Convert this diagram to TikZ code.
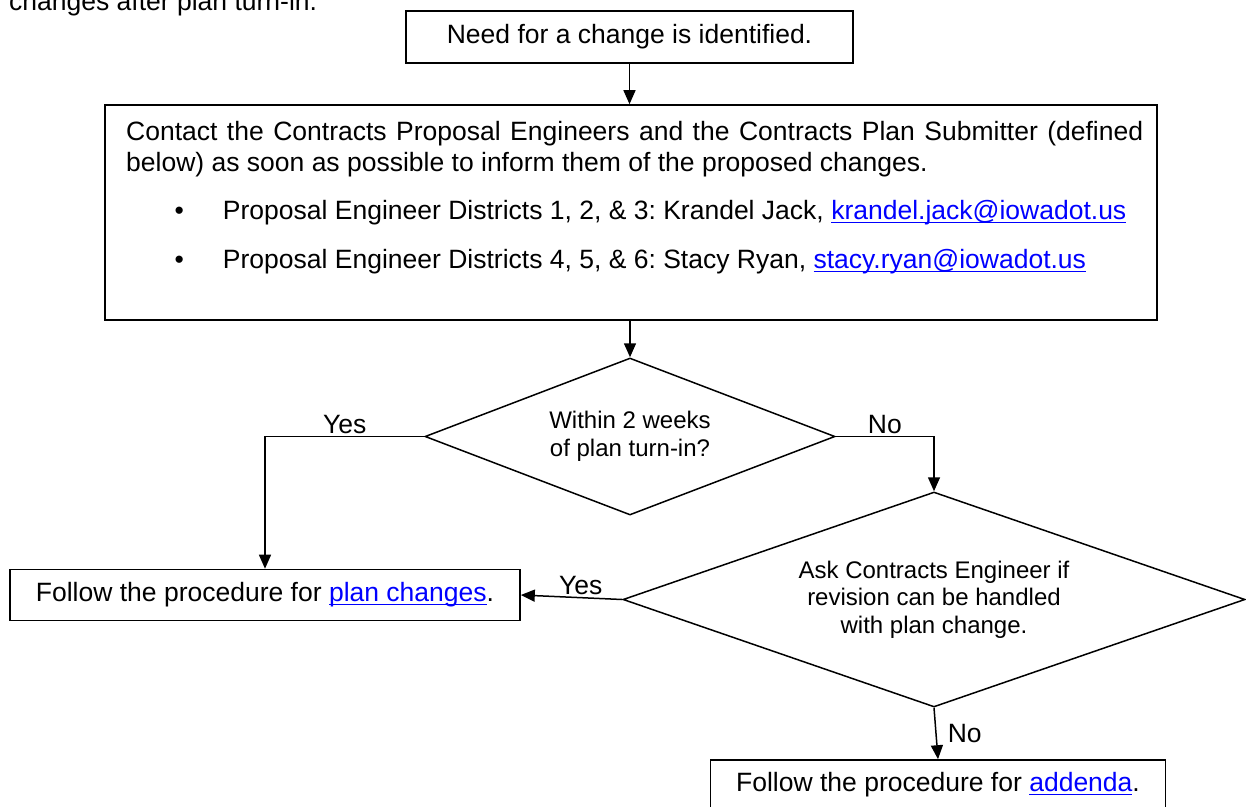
\documentclass[tikz,border=0pt]{standalone}
\usepackage{fontspec}
\setmainfont{Liberation Sans}
\usetikzlibrary{shapes.geometric,arrows.meta,positioning}

\definecolor{linkblue}{RGB}{0,0,255}
\newcommand{\weblink}[1]{{\color{linkblue}\setbox0\hbox{#1}\rlap{\rule[-3.5pt]{\wd0}{1.3pt}}\box0}}
\newcommand{\bigtext}{\fontsize{26.5}{31}\selectfont\frenchspacing}
\newcommand{\smalltext}{\fontsize{24}{27.5}\selectfont\frenchspacing}

\tikzset{
  stepbox/.style={draw, rectangle, line width=1.6pt, inner sep=0pt, font=\bigtext},
  decision/.style={draw, diamond, line width=1.5pt, inner sep=0pt, align=center, font=\smalltext},
  flow/.style={line width=1.5pt, -{Triangle[length=14pt,width=12pt]}},
  answer/.style={font=\bigtext, inner sep=2pt},
}

\begin{document}
\begin{tikzpicture}[x=1pt, y=-1pt]
\useasboundingbox (0,0) rectangle (1246,806);

% line of text above the chart, cut by the page
\node[anchor=base west, inner sep=0pt, font=\bigtext] (intro) at (9,10) {changes after plan turn-in.};

% boxes
\node[stepbox, minimum width=447pt, minimum height=52pt] (need) at (629.5,37) {Need for a change is identified.};
\node[stepbox, minimum width=1052pt, minimum height=215pt] (contact) at (631,212.5) {};
\node[anchor=north west, inner sep=0pt, align=left, font=\bigtext] (contacttxt) at (126,121)
  {\hbox to 1017pt{Contact the Contracts Proposal Engineers and the Contracts Plan Submitter (defined}\\
   below) as soon as possible to inform them of the proposed changes.\\[17pt]
   \hspace*{48.5pt}\textbullet\hspace*{39pt}Proposal Engineer Districts 1, 2, \& 3: Krandel Jack, \weblink{krandel.jack@iowadot.us}\\[18pt]
   \hspace*{48.5pt}\textbullet\hspace*{39pt}Proposal Engineer Districts 4, 5, \& 6: Stacy Ryan, \weblink{stacy.ryan@iowadot.us}};

% decisions
\node[decision, aspect=2.6, minimum width=410pt, minimum height=157pt] (within) at (630,436.5) {Within 2 weeks\\of plan turn-in?};
\node[decision, aspect=2.9, minimum width=622pt, minimum height=215pt] (ask) at (934,599.5) {Ask Contracts Engineer if\\revision can be handled\\with plan change.};

% outcomes
\node[stepbox, minimum width=510pt, minimum height=51pt] (plan) at (265,595) {Follow the procedure for \weblink{plan changes}.};
\node[stepbox, minimum width=455pt, minimum height=50pt] (addenda) at (938,785) {Follow the procedure for \weblink{addenda}.};

% connectors
\draw[flow] (need.south) -- (need.south |- contact.north);
\draw[flow] (contact.south -| within.north) -- (within.north);
\draw[flow] (within.west) -| node[answer, pos=0.25, above] (yesleft) {Yes} (plan.north);
\draw[flow] (within.east) -| node[answer, pos=0.25, above] (noright) {No} (ask.north);
\draw[flow] (ask.west) -- node[answer, pos=0.41, above] (yesplan) {Yes} (plan.east);
\draw[flow] (ask.south) -- node[answer, right, xshift=9pt] (noaddenda) {No} (addenda.north);
\end{tikzpicture}
\end{document}
